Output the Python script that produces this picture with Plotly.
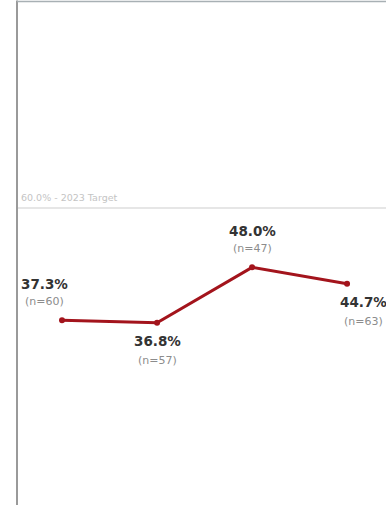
import plotly.graph_objects as go

# Survey periods and results
periods = ["2019", "2020", "2021", "2022"]
rates = [37.3, 36.8, 48.0, 44.7]
counts = [60, 57, 47, 63]
target = 60.0
target_label = "60.0% - 2023 Target"

# label placement per point: (above?, horizontal shift)
label_above = [True, False, True, False]
label_xshift = [-18, 0, 0, 16]

FONT = "DejaVu Sans, Verdana, sans-serif"

fig = go.Figure()

fig.add_trace(go.Scatter(
    x=periods, y=rates, mode="lines+markers",
    line=dict(color="#a3141c", width=3),
    marker=dict(color="#a3141c", size=6),
    hoverinfo="skip", showlegend=False,
))

# target reference line
fig.add_shape(type="line", xref="paper", yref="y", x0=0, x1=1, y0=target, y1=target,
              line=dict(color="#dedede", width=1.5))
fig.add_annotation(x=0, xref="paper", y=target, yref="y", text=target_label,
                   showarrow=False, xanchor="left", yanchor="bottom", xshift=2, yshift=3,
                   font=dict(family=FONT, size=9.5, color="#c4c4c4"))

for i, (r, n, above, dx) in enumerate(zip(rates, counts, label_above, label_xshift)):
    pct_shift = 36 if above else -18
    n_shift = 19 if above else -38
    fig.add_annotation(x=i, y=r, text=f"<b>{r:.1f}%</b>", showarrow=False,
                       xshift=dx, yshift=pct_shift,
                       font=dict(family=FONT, size=13.5, color="#333333"))
    fig.add_annotation(x=i, y=r, text=f"(n={n})", showarrow=False,
                       xshift=dx, yshift=n_shift,
                       font=dict(family=FONT, size=11, color="#8c8c8c"))

# panel frame (left and top edges)
fig.add_shape(type="line", xref="paper", yref="paper", x0=0, x1=0, y0=0, y1=1.005,
              line=dict(color="#9a9a9a", width=2))
fig.add_shape(type="line", xref="paper", yref="paper", x0=0, x1=1, y0=1.003, y1=1.003,
              line=dict(color="#a8b0b4", width=1.5))

fig.update_xaxes(type="category", range=[-0.474, 3.41], visible=False)
fig.update_yaxes(range=[0, 101.4], visible=False)

fig.update_layout(
    width=386, height=505,
    margin=dict(l=17, r=0, t=3, b=0),
    plot_bgcolor="white", paper_bgcolor="white",
)

fig.write_html("out.html")
